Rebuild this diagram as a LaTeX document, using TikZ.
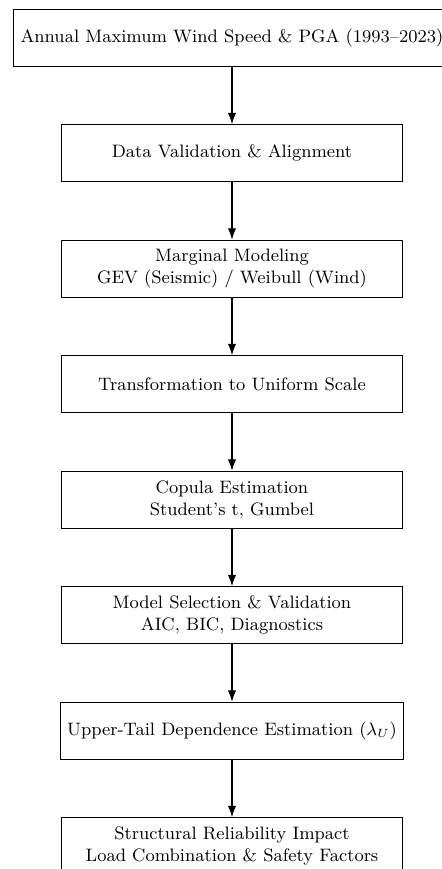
\documentclass[tikz,border=0pt]{standalone}
\usetikzlibrary{positioning,arrows.meta}
\begin{document}
\begin{tikzpicture}[
  stepbox/.style={draw, rectangle, minimum width=6cm, minimum height=1cm, align=center, font=\small},
  flow/.style={-{Latex[length=2mm,width=1.5mm]}, semithick},
  node distance=28.9pt
]
\useasboundingbox (-116pt,18.75pt) rectangle (105pt,-415.75pt);
\node[stepbox] (n1) at (0,0) {Annual Maximum Wind Speed \& PGA (1993--2023)};
\node[stepbox, below=of n1] (n2) {Data Validation \& Alignment};
\node[stepbox, below=of n2] (n3) {Marginal Modeling\\GEV (Seismic) / Weibull (Wind)};
\node[stepbox, below=of n3] (n4) {Transformation to Uniform Scale};
\node[stepbox, below=of n4] (n5) {Copula Estimation\\Student's t, Gumbel};
\node[stepbox, below=of n5] (n6) {Model Selection \& Validation\\AIC, BIC, Diagnostics};
\node[stepbox, below=of n6] (n7) {Upper-Tail Dependence Estimation ($\lambda_U$)};
\node[stepbox, below=of n7] (n8) {Structural Reliability Impact\\Load Combination \& Safety Factors};
\draw[flow] (n1) -- (n2);
\draw[flow] (n2) -- (n3);
\draw[flow] (n3) -- (n4);
\draw[flow] (n4) -- (n5);
\draw[flow] (n5) -- (n6);
\draw[flow] (n6) -- (n7);
\draw[flow] (n7) -- (n8);
\end{tikzpicture}
\end{document}
